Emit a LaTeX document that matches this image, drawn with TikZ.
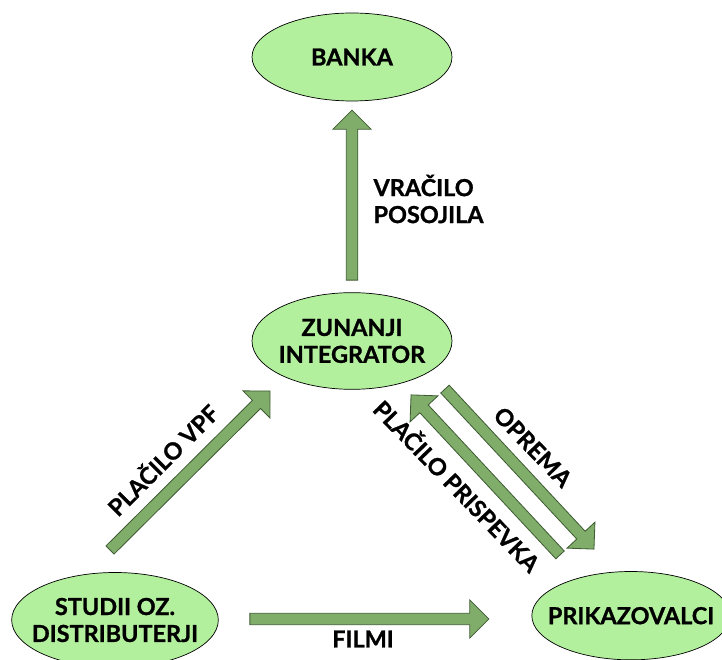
\documentclass[tikz,border=0pt]{standalone}
\usepackage{fontspec}
\setmainfont{Lato}[BoldFeatures={FakeBold=1}]
\usetikzlibrary{calc,shapes.arrows,shapes.geometric}

\definecolor{party fill}{HTML}{B3F09D}
\definecolor{flow fill}{HTML}{80AD69}
\definecolor{flow edge}{HTML}{3F5C35}
\def\labelfont{\fontsize{20}{23}\selectfont\bfseries}
\tikzset{
  party/.style={ellipse, fill=party fill, draw=black, line width=0.6pt, align=center, font=\labelfont, inner sep=-0.4cm},
  flowarrow/.style={single arrow, fill=flow fill, draw=flow edge, line width=0.7pt,
    single arrow head extend=0.4cm, single arrow tip angle=90, inner xsep=0pt, inner ysep=0.16cm},
  flowlabel/.style={font=\labelfont, align=left, inner sep=0pt}
  }
\newcommand{\flow}[2]{%
  \path let \p1 = ($(#2)-(#1)$), \n1 = {veclen(\x1,\y1)}, \n2 = {atan2(\y1,\x1)} in
    node[flowarrow, minimum height=\n1, rotate=\n2] at ($(#1)!0.5!(#2)$) {};
}

\begin{document}
\begin{tikzpicture}
   \useasboundingbox (0,0) rectangle (21.66,19.77);
   \begin{scope}
   \clip (0,0) rectangle (21.66,19.77);

   \node[party, minimum width=6.0cm, minimum height=2.64cm] (banka) at (10.56,18.06) {BANKA};
   \node[party, minimum width=6.0cm, minimum height=2.9cm] (integrator) at (10.56,9.54) {ZUNANJI\\INTEGRATOR};
   \node[party, minimum width=6.2cm, minimum height=2.85cm] (studii) at (3.45,1.17) {STUDII OZ.\\DISTRIBUTERJI};
   \node[party, minimum width=5.95cm, minimum height=2.65cm] (prikazovalci) at (18.93,1.3) {PRIKAZOVALCI};

   % arrow ends
   \coordinate (loanA) at (10.56,11.28);
   \coordinate (loanB) at (10.56,16.38);
   \coordinate (vpfA) at (3.24,3.21);
   \coordinate (vpfB) at (8.04,7.98);
   \coordinate (opremaA) at (13.29,8.16);
   \coordinate (opremaB) at (17.76,3.36);
   \coordinate (prispA) at (16.86,3.06);
   \coordinate (prispB) at (12.39,7.86);
   \coordinate (filmiA) at (7.41,1.2);
   \coordinate (filmiB) at (14.58,1.2);

   \flow{loanA}{loanB}
   \flow{vpfA}{vpfB}
   \flow{opremaA}{opremaB}
   \flow{prispA}{prispB}
   \flow{filmiA}{filmiB}

   \node[flowlabel, anchor=west] (vracilo) at (11.2,13.8) {VRAČILO\\POSOJILA};
   \node[flowlabel, rotate=45] (placilovpf) at (4.86,6.0) {PLAČILO VPF};
   \node[flowlabel, rotate=-46] (oprema) at (15.99,6.36) {OPREMA};
   \node[flowlabel, rotate=-46] (prispevek) at (13.74,5.22) {PLAČILO PRISPEVKA};
   \node[flowlabel] (filmi) at (10.89,0.6) {FILMI};
   \end{scope}
\end{tikzpicture}
\end{document}
